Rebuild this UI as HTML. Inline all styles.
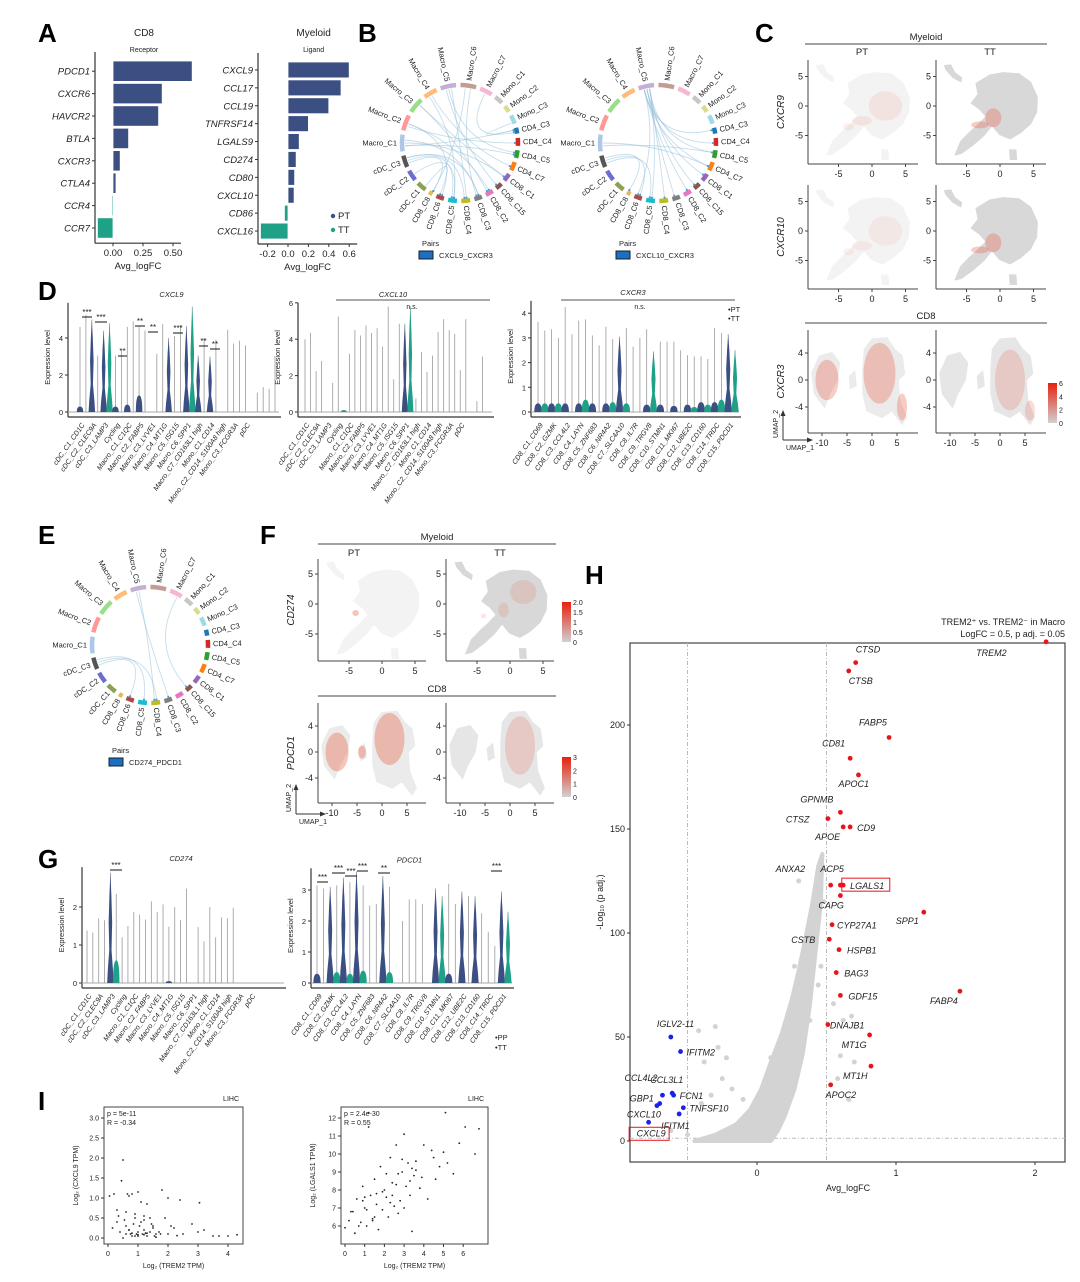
<!DOCTYPE html>
<html><head><meta charset="utf-8">
<style>
html,body{margin:0;padding:0;background:#fff;}
svg{display:block;font-family:"Liberation Sans",Arial,sans-serif;}
.pl{font-weight:bold;font-size:26px;fill:#000;}
</style></head>
<body>
<svg id="fig" width="1080" height="1282" viewBox="0 0 1080 1282" xmlns="http://www.w3.org/2000/svg">
<text class="pl" x="38" y="42">A</text>
<text class="pl" x="358" y="42">B</text>
<text class="pl" x="755" y="42">C</text>
<text class="pl" x="38" y="300">D</text>
<text class="pl" x="38" y="544">E</text>
<text class="pl" x="260" y="544">F</text>
<text class="pl" x="38" y="868">G</text>
<text class="pl" x="585" y="584">H</text>
<text class="pl" x="38" y="1110">I</text>
</svg>
<script>
// ---------- DATA ----------
const cd8Genes=["PDCD1","CXCR6","HAVCR2","BTLA","CXCR3","CTLA4","CCR4","CCR7"];
const cd8FC=[0.66,0.41,0.38,0.13,0.06,0.025,-0.01,-0.13];
const myeGenes=["CXCL9","CCL17","CCL19","TNFRSF14","LGALS9","CD274","CD80","CXCL10","CD86","CXCL16"];
const myeFC=[0.6,0.52,0.4,0.2,0.11,0.08,0.065,0.06,-0.035,-0.27];
const cd8Ticks=[0,0.25,0.5];
const cd8TickLabels=["0.00","0.25","0.50"];
const myeTicks=[-0.2,0,0.2,0.4,0.6];
const myeTickLabels=["-0.2","0.0","0.2","0.4","0.6"];

const chordSegs=["Macro_C1","Macro_C2","Macro_C3","Macro_C4","Macro_C5","Macro_C6","Macro_C7","Mono_C1","Mono_C2","Mono_C3","CD4_C3","CD4_C4","CD4_C5","CD4_C7","CD8_C1","CD8_C15","CD8_C2","CD8_C3","CD8_C4","CD8_C5","CD8_C6","CD8_C8","cDC_C1","cDC_C2","cDC_C3"];
const chordW=[1.7,1.6,1.6,1.4,1.6,1.6,1.3,0.9,0.7,0.9,0.6,0.8,0.8,0.9,0.8,0.7,0.8,0.8,0.9,0.9,0.8,0.4,1.0,1.1,1.2];
const chordCol=["#aec7e8","#ff9896","#98df8a","#ffbb78","#c5b0d5","#c49c94","#f7b6d2","#c7c7c7","#dbdb8d","#9edae5","#1f77b4","#d62728","#2ca02c","#ff7f0e","#9467bd","#8c564b","#e377c2","#7f7f7f","#bcbd22","#17becf","#ad494a","#e7ba52","#8ca252","#6b6ecf","#555555"];
const chordSrc1=[0,0,0,1,1,2,3,3,4,4,4,5,5,6,9,22,23,24,24,24,24,0,1,2];
const chordDst1=[10,14,17,11,20,16,19,13,18,15,12,17,21,10,10,20,19,18,21,19,17,12,16,14];
const chordSrc2=[4,4,4,4,4,4,4,4,4,24,24,24,0,0,4,4];
const chordDst2=[10,11,12,13,14,15,16,17,18,19,20,21,12,13,19,20];
const chordSrcE=[4,4,24,24,24,6];
const chordDstE=[17,18,19,20,18,15];

const d1H=[4.6,5.25,5.0,3.05,4.4,4.8,3.05,3.3,4.6,4.9,4.6,4.4,0,3.15,4.75,4.0,4.1,4.7,4.65,5.7,3.05,4.0,3.0,3.9,0,4.45,3.7,3.85,3.6,0,1.05,1.35,1.25,3.0];
const d1B=[0.3,0,5.0,0,4.4,4.8,0.3,0,0.4,0,0.9,0,0,0,0,4.0,0,0,4.65,5.7,3.05,0,3.0,0,0,0,0,0,0,0,0,0,0,0];
const d1C=["n","","n","","n","g","n","","n","","n","","","","","n","","","n","g","n","","n","","","","","","","","","","",""];
const d2H=[4.0,4.35,2.25,2.8,0,1.6,5.25,0.1,3.2,4.5,4.2,4.75,4.35,4.6,3.6,5.8,1.8,4.85,4.85,5.8,0.75,3.3,2.2,3.1,4.4,5.1,4.5,4.3,2.3,5.1,0,0.6,3.05,0];
const d2B=[0,0,0,0,0,0,0,0.1,0,0,0,0,0,0,0,0,0,0,4.85,5.8,0,0,0,0,0,0,0,0,0,0,0,0,0,0];
const d2C=["","","","","","","","g","","","","","","","","","","","n","g","","","","","","","","","","","","","",""];
const d3H=[3.65,3.3,3.35,3.0,4.25,3.15,3.7,3.75,3.1,2.7,3.45,2.95,3.05,3.4,2.65,3.0,3.35,2.45,2.85,2.85,2.85,2.5,2.3,2.25,2.25,2.15,3.4,3.2,3.15,2.5];
const d3B=[0.35,0.35,0.35,0.35,0.35,0,0.35,0.5,0.35,0,0.35,0.4,3.05,0.35,0,0,0.3,2.45,0.3,0,0.25,0,0.3,0.2,0.4,0.3,0.4,0.5,3.15,2.5];
const d3C=["n","g","n","g","n","","n","g","n","","n","g","n","g","","","n","g","n","","n","","n","g","n","g","n","g","n","g"];
const g1H=[1.38,1.33,1.7,1.65,2.9,2.35,1.2,1.5,1.87,1.8,1.67,2.15,1.87,2.07,1.48,2.0,1.65,2.48,0,1.47,1.1,2.0,1.2,1.73,1.7,1.98,0,0,0,0,0,0,0,0];
const g1B=[0,0,0,0,2.9,0.6,0,0,0,0,0,0,0,0,0.05,0,0,0,0,0,0,0,0,0,0,0,0,0,0,0,0,0,0,0];
const g1C=["","","","","n","g","","","","","","","","","n","","","","","","","","","","","","","","",""];
const g2H=[3.15,3.05,3.1,3.15,3.4,3.25,3.6,3.15,2.5,2.55,3.45,3.1,0,2.0,2.7,2.7,2.55,0,3.05,2.8,3.2,2.55,2.95,2.8,2.8,2.25,1.65,1.2,2.95,2.3];
const g2B=[0.3,0,3.1,0.35,3.4,0.3,3.6,0.4,0,0,3.45,0.35,0,0,0,0,0,0,3.05,2.8,0.3,0,2.95,0,2.8,0,0,0,2.95,2.3];
const g2C=["n","","n","g","n","g","n","g","","","n","g","","","","","","","n","g","n","","n","","n","","","","n","g"];
const myCats17=["cDC_C1_CD1C","cDC_C2_CLEC9A","cDC_C3_LAMP3","Cycling","Macro_C1_C1QC","Macro_C2_FABP5","Macro_C3_LYVE1","Macro_C4_MT1G","Macro_C5_ISG15","Macro_C6_SPP1","Macro_C7_CD163L1 high","Mono_C1_CD14","Mono_C2_CD14_S100A8 high","Mono_C3_FCGR3A","pDC"];
const cd8Cats=["CD8_C1_CD69","CD8_C2_GZMK","CD8_C3_CCL4L2","CD8_C4_LAYN","CD8_C5_ZNF683","CD8_C6_NR4A2","CD8_C7_SLC4A10","CD8_C8_IL7R","CD8_C9_TRGV8","CD8_C10_STMN1","CD8_C11_MKI67","CD8_C12_UBE2C","CD8_C13_CD160","CD8_C14_TRDC","CD8_C15_PDCD1"];

// Volcano
const upGenes=["CTSD","CTSB","FABP5","CD81","APOC1","GPNMB","CTSZ","CD9","APOE","ANXA2","ACP5","LGALS1","CAPG","CYP27A1","SPP1","CSTB","HSPB1","BAG3","GDF15","FABP4","DNAJB1","MT1G","MT1H","APOC2","TREM2"];
const upFC=[0.71,0.66,0.95,0.67,0.73,0.6,0.51,0.67,0.62,0.53,0.6,0.62,0.6,0.54,1.2,0.52,0.59,0.57,0.6,1.46,0.51,0.81,0.82,0.53,2.08];
const upP=[230,226,194,184,176,158,155,151,151,123,123,123,118,104,110,97,92,81,70,72,56,51,36,27,240];
const upDx=[0,0,-30,-28,-20,-40,-42,7,-28,-55,-20,7,-22,5,-28,-38,8,8,8,-30,2,-28,-28,-5,-70];
const upDy=[-10,13,-12,-12,12,-10,4,4,13,-13,-13,4,13,4,12,4,4,4,4,13,4,13,13,13,14];
const dnGenes=["IGLV2-11","IFITM2","CCL4L2","CCL3L1","GBP1","FCN1","CXCL10","TNFSF10","IFITM1","CXCL9"];
const dnFC=[-0.62,-0.55,-0.68,-0.61,-0.7,-0.6,-0.72,-0.53,-0.56,-0.78];
const dnP=[50,43,22,23,18,22,17,16,13,9];
const dnDx=[-14,6,-38,-22,-30,6,-30,6,-18,-12];
const dnDy=[-10,4,-14,-10,-2,4,12,4,15,14];
const cloudFC=[-0.45,-0.3,-0.15,-0.05,0.03,0.1,0.18,0.25,0.3,0.35,0.4,0.44,0.47,0.46,0.42,0.38,0.33,0.27,0.2,0.15,0.1,0.0,-0.2];
const cloudP=[0,3,8,15,25,38,52,68,82,98,115,132,138,115,90,65,42,25,12,5,0,0,0];
const grayFC=[-0.42,-0.38,-0.62,-0.18,-0.25,0.3,0.35,0.4,0.42,0.46,0.55,0.62,0.68,0.6,0.7,-0.4,-0.33,0.44,0.27,0.38,0.48,-0.5,-0.22,0.66,0.58,-0.3,-0.28,-0.1,0.1];
const grayP=[53,38,5,25,30,125,88,108,95,84,66,58,60,41,38,18,22,75,84,58,115,3,40,20,30,55,45,20,40];
const hxTicks=[0,1,2];
const hyTicks=[0,50,100,150,200];

// Scatter I
const s1x=[0.05,0.2,0.3,0.45,0.5,0.6,0.65,0.7,0.8,0.9,1.0,1.1,1.2,1.3,1.8,2.0,2.4,3.05,0.15,0.3,0.4,0.55,0.6,0.7,0.75,0.85,0.9,1.0,1.05,1.1,1.15,1.2,1.3,1.4,1.5,1.6,1.7,1.9,2.1,2.2,2.5,2.8,3.0,3.2,3.5,3.7,4.0,4.3,0.5,0.8,1.0,1.3,1.5,1.2,0.9,1.6,2.0,2.3,0.35,1.45,0.6,0.8,1.0,1.2,1.4,0.7,0.95,1.25,1.55,1.75];
const s1y=[1.05,1.1,0.7,1.43,1.95,0.65,1.1,1.05,1.1,0.6,1.15,0.9,0.55,0.85,1.2,1.0,0.95,0.88,0.25,0.4,0.15,0.45,0.3,0.2,0.1,0.35,0.05,0.15,0.3,0.4,0.1,0.2,0.05,0.5,0.25,0.1,0.15,0.5,0.3,0.25,0.1,0.35,0.15,0.2,0.05,0.05,0.05,0.08,0.0,0.05,0.08,0.12,0.3,0.45,0.5,0.02,0.1,0.06,0.55,0.35,0.1,0.12,0.05,0.08,0.15,0.2,0.1,0.12,0.05,0.1];
const s2x=[0.0,0.2,0.4,0.5,0.6,0.8,0.9,1.0,1.1,1.2,1.3,1.4,1.5,1.6,1.7,1.8,1.9,2.0,2.1,2.2,2.3,2.4,2.5,2.6,2.7,2.8,2.9,3.0,3.1,3.2,3.3,3.4,3.5,3.6,3.8,4.0,4.2,4.4,4.6,4.8,5.0,5.2,5.5,5.8,6.1,6.6,6.8,1.2,2.9,5.1,0.3,0.7,1.0,1.5,1.9,2.3,2.6,3.0,3.4,3.9,4.5,0.9,1.4,2.1,2.7,3.3,1.1,1.6,2.4,3.6];
const s2y=[5.9,6.3,6.8,5.6,7.5,6.2,8.2,7.0,6.0,11.5,7.7,6.4,8.6,7.2,5.8,9.3,6.9,8.0,7.6,6.5,9.8,8.4,7.1,10.5,8.9,7.4,9.0,11.1,8.2,9.5,7.7,5.7,8.8,9.6,8.1,10.5,7.5,10.2,8.6,9.3,10.1,9.5,8.9,10.6,11.5,10.0,11.4,12.3,9.7,12.3,6.8,6.0,7.6,6.5,7.9,7.3,8.3,7.0,9.2,8.7,9.8,7.4,6.3,8.9,6.7,8.5,6.9,7.8,7.7,9.1];
const s1yTicks=[0,0.5,1,1.5,2,2.5,3];
const s1yLabels=["0.0","0.5","1.0","1.5","2.0","2.5","3.0"];
const s2yTicks=[6,7,8,9,10,11,12];

// ---------- HELPERS ----------
const svg=document.getElementById('fig');
const NS="http://www.w3.org/2000/svg";
function mk(tag,name,attrs,parent){
  const e=document.createElementNS(NS,tag);
  for(const k in attrs)e.setAttribute(k,attrs[k]);
  
  
  (parent||svg).appendChild(e);return e;
}
function tx(name,x,y,s,o){
  o=o||{};
  const e=mk('text',name,{x:x,y:y,'font-size':o.fs||9,fill:o.fill||'#222','text-anchor':o.anchor||'start'});
  if(o.italic)e.setAttribute('font-style','italic');
  if(o.rot!==undefined)e.setAttribute('transform','rotate('+o.rot+' '+x+' '+y+')');
  e.textContent=s;return e;
}
function ln(name,x1,y1,x2,y2,c,w,dash){
  const e=mk('line',name,{x1:x1,y1:y1,x2:x2,y2:y2,stroke:c||'#333','stroke-width':w||1});
  if(dash)e.setAttribute('stroke-dasharray',dash);return e;
}
const NAVY="#3b4f82",GREEN="#1fa187";

// ---------- PANEL A ----------
function barChart(genes,vals,ticks,tickLabels,x0,scale,yTop,step,axisX,title,sub,prefix){
  const sx=v=>x0+v*scale;
  const cx=(axisX+sx(ticks[ticks.length-1])+20)/2;
  tx(prefix+'-title',cx,36,title,{fs:10,anchor:'middle'});
  tx(prefix+'-subtitle',cx,52,sub,{fs:7,anchor:'middle'});
  const yBot=yTop+step*genes.length+4;
  ln(prefix+'-y-axis',axisX,yTop-8,axisX,yBot,'#333',1.2);
  ln(prefix+'-x-axis',axisX,yBot,sx(ticks[ticks.length-1])+8,yBot,'#333',1.2);
  genes.forEach((g,i)=>{
    const yc=yTop+step*i+step/2;
    const v=vals[i];
    mk('rect',prefix+'-bar-'+g.toLowerCase(),{x:Math.min(sx(0),sx(v)),y:yc-step/2+1,width:Math.max(1,Math.abs(sx(v)-sx(0))),height:step-2,fill:v>=0?NAVY:GREEN,stroke:'#fff','stroke-width':0.8});
    ln(prefix+'-tick-'+i,axisX-3,yc,axisX,yc);
    tx(prefix+'-label-'+g.toLowerCase(),axisX-5,yc+3.5,g,{fs:9.5,anchor:'end',italic:true});
  });
  ticks.forEach((t,i)=>{
    ln(prefix+'-xtick',sx(t),yBot,sx(t),yBot+3);
    tx(prefix+'-xtick-label',sx(t),yBot+13,tickLabels[i],{fs:9.5,anchor:'middle'});
  });
  tx(prefix+'-x-title',(axisX+sx(ticks[ticks.length-1]))/2+4,yBot+26,'Avg_logFC',{fs:9.5,anchor:'middle'});
}
barChart(cd8Genes,cd8FC,cd8Ticks,cd8TickLabels,113,120,60,22.4,95,'CD8','Receptor','a-cd8');
barChart(myeGenes,myeFC,myeTicks,myeTickLabels,288,102,61,17.9,258,'Myeloid','Ligand','a-myeloid');
mk('circle','legend-pt-dot',{cx:333,cy:216,r:2.2,fill:NAVY});
tx('legend-pt',338,219,'PT',{fs:9.5});
mk('circle','legend-tt-dot',{cx:333,cy:230,r:2.2,fill:GREEN});
tx('legend-tt',338,233,'TT',{fs:9.5});

// ---------- CHORDS ----------
function chord(cx,cy,R,src,dst,prefix,fs){
  const tot=chordW.reduce((a,b)=>a+b,0);
  const gap=0.012*Math.PI*2;
  const avail=Math.PI*2-gap*chordW.length;
  let a=Math.PI - (chordW[0]/tot*avail)/2;
  const mid=[];
  chordSegs.forEach((s,i)=>{
    const span=chordW[i]/tot*avail;
    const a0=a,a1=a+span; a=a1+gap;
    mid.push((a0+a1)/2);
    const p=(t)=>[cx+R*Math.cos(t),cy+R*Math.sin(t)];
    const [x0,y0]=p(a0),[x1,y1]=p(a1);
    mk('path',prefix+'-sector-'+s.toLowerCase(),{d:`M${x0},${y0} A${R},${R} 0 0 1 ${x1},${y1}`,stroke:chordCol[i],'stroke-width':4.5,fill:'none'});
    const m=(a0+a1)/2;
    let deg=m*180/Math.PI; deg=((deg%360)+360)%360;
    const lx=cx+(R+5)*Math.cos(m),ly=cy+(R+5)*Math.sin(m);
    const left=deg>90&&deg<270;
    const t=tx(prefix+'-label-'+s.toLowerCase(),lx,ly+2.5,s,{fs:fs,anchor:left?'end':'start'});
    t.setAttribute('transform','rotate('+(left?deg-180:deg)+' '+lx+' '+ly+')');
  });
  src.forEach((s,i)=>{
    const t1=mid[s]+0.05*((i%3)-1),t2=mid[dst[i]]+0.04*((i%2)-0.5);
    const r=R-3;
    const x1=cx+r*Math.cos(t1),y1=cy+r*Math.sin(t1),x2=cx+r*Math.cos(t2),y2=cy+r*Math.sin(t2);
    mk('path',prefix+'-chord',{d:`M${x1},${y1} Q${cx},${cy} ${x2},${y2}`,stroke:'#8dbbd8','stroke-opacity':0.5,'stroke-width':0.9,fill:'none'});
    mk('circle',prefix+'-chord-arrow',{cx:x2,cy:y2,r:1.1,fill:'#5a9ac8'});
  });
}
chord(460,143,58,chordSrc1,chordDst1,'b-cxcl9',7.5);
chord(658,143,58,chordSrc2,chordDst2,'b-cxcl10',7.5);
chord(150,645,58,chordSrcE,chordDstE,'e-cd274',7.5);
function pairs(x,y,label,p){
  tx(p+'-pairs-title',x,y,'Pairs',{fs:7.5});
  mk('rect',p+'-pairs-swatch',{x:x-3,y:y+5,width:14,height:8,fill:'#1f6fbf',stroke:'#123'});
  tx(p+'-pairs-label',x+17,y+12,label,{fs:7.5});
}
pairs(422,246,'CXCL9_CXCR3','b1');
pairs(619,246,'CXCL10_CXCR3','b2');
pairs(112,753,'CD274_PDCD1','e');

// ---------- UMAPS ----------
const myeBlobs=[
 "M-8.2,6.8 L-7.4,6.9 L-6.8,5.6 L-5.8,4.8 L-5.9,4.2 L-7.0,4.9 L-8.0,6.2 Z",
 "M-3.5,3.8 L-1.5,5.2 L0.5,5.6 L2.8,5.4 L4.5,4.0 L5.5,1.5 L5.4,-1.0 L4.5,-3.0 L3.0,-4.5 L1.5,-5.5 L0.0,-4.8 L-1.2,-3.2 L-2.0,-1.8 L-3.0,-0.5 L-4.2,0.5 L-3.2,2.0 Z",
 "M-6.6,-8.2 L-5.8,-6.0 L-4.5,-4.5 L-3.2,-3.2 L-2.0,-1.8 L-1.2,-3.2 L-2.5,-5.0 L-4.0,-6.5 L-5.8,-8.0 Z",
 "M1.5,-7.5 L2.3,-7.5 L2.4,-9.0 L1.6,-9.0 Z"];
const cd8Blobs=[
 "M-12,1 L-10.5,3.5 L-8,4 L-6.5,2.5 L-7,0 L-8.5,-2 L-9.5,-4 L-11.5,-2 Z",
 "M-1.5,4.5 L0,6 L3,6.2 L4.5,4.5 L6,3.5 L6.5,1 L5.2,0 L5.5,-3 L6.8,-5.5 L6,-6.5 L4,-4.5 L2,-5.5 L-1,-4.5 L-1.8,-2 L-1.8,1.5 Z",
 "M-4.5,0.5 L-3.5,1.2 L-3.2,-0.8 L-4.3,-1.2 Z"];
function umap(px,py,w,h,xs,ys,x0,y0,blobs,fill,reds,redOp,prefix,xt,yt,ylab){
  const g=mk('g',prefix,{});
  const tr=`translate(${x0} ${y0}) scale(${xs} ${-ys})`;
  blobs.forEach((b,i)=>{mk('path',prefix+'-cluster-'+i,{d:b,fill:fill,transform:tr,stroke:fill,'stroke-width':0.3},g);});
  reds.forEach((r,i)=>{mk('ellipse',prefix+'-expr-'+i,{cx:x0+r[0]*xs,cy:y0-r[1]*ys,rx:r[2]*xs,ry:r[3]*ys,fill:'#e8553a','fill-opacity':redOp},g);});
  ln(prefix+'-x-axis',px,py+h,px+w,py+h,'#444',1);
  ln(prefix+'-y-axis',px,py,px,py+h,'#444',1);
  xt.forEach(t=>{ln(prefix+'-xt',x0+t*xs,py+h,x0+t*xs,py+h+3,'#444');tx(prefix+'-xtl',x0+t*xs,py+h+13,String(t),{fs:9,anchor:'middle'});});
  yt.forEach(t=>{ln(prefix+'-yt',px-3,y0-t*ys,px,y0-t*ys,'#444');tx(prefix+'-ytl',px-5,y0-t*ys+3,String(t),{fs:9,anchor:'end'});});
  if(ylab)tx(prefix+'-ylab',px-24,py+h/2,ylab,{fs:10,anchor:'middle',italic:true,rot:-90});
}
function header(x1,x2,y,title,prefix){tx(prefix,(x1+x2)/2,y-4,title,{fs:9.5,anchor:'middle'});ln(prefix+'-line',x1,y,x2,y,'#444',1);}
header(805,1047,44,'Myeloid','c-myeloid-header');
tx('c-pt',862,55,'PT',{fs:9.5,anchor:'middle'});tx('c-tt',990,55,'TT',{fs:9.5,anchor:'middle'});
const myeR_PT=[[-1.5,-2.5,1.5,0.8],[-3.5,-3.5,0.8,0.6],[2,0,2.5,2.5]];
const myeR_TT=[[-1,-2,1.2,1.6],[-3,-3.2,1.3,0.6]];
umap(808,60,110,104,6.7,5.9,872,106,myeBlobs,'#f3f3f3',myeR_PT,0.1,'c-cxcr9-pt',[-5,0,5],[5,0,-5],'CXCR9');
umap(936,60,110,104,6.7,5.9,1000,106,myeBlobs,'#d8d8d8',myeR_TT,0.3,'c-cxcr9-tt',[-5,0,5],[5,0,-5],'');
umap(808,185,110,104,6.7,5.9,872,231,myeBlobs,'#f3f3f3',myeR_PT,0.08,'c-cxcr10-pt',[-5,0,5],[5,0,-5],'CXCR10');
umap(936,185,110,104,6.7,5.9,1000,231,myeBlobs,'#d8d8d8',myeR_TT,0.3,'c-cxcr10-tt',[-5,0,5],[5,0,-5],'');
header(805,1047,323,'CD8','c-cd8-header');
const cd8R_PT=[[1.5,1,3.2,4.5],[-9,0,2.3,3],[6,-4,1,2]];
const cd8R_TT=[[2,0,3,4.5],[6,-4.5,1,1.5]];
umap(808,330,110,103,5,6.75,872,380,cd8Blobs,'#ebebeb',cd8R_PT,0.3,'c-cxcr3-pt',[-10,-5,0,5],[4,0,-4],'CXCR3');
umap(936,330,110,103,5,6.75,1000,380,cd8Blobs,'#e6e6e6',cd8R_TT,0.2,'c-cxcr3-tt',[-10,-5,0,5],[4,0,-4],'');
function cbar(x,y,h,labels,prefix){
  const gid=prefix+'-grad';
  const defs=mk('defs',prefix+'-defs',{});
  const lg=mk('linearGradient',prefix+'-gradient',{id:gid,x1:0,y1:1,x2:0,y2:0},defs);
  mk('stop',prefix+'-stop0',{offset:0,'stop-color':'#d0d0d0'},lg);
  mk('stop',prefix+'-stop1',{offset:1,'stop-color':'#e8200f'},lg);
  mk('rect',prefix+'-bar',{x:x,y:y,width:9,height:h,fill:`url(#${gid})`});
  labels.forEach((l,i)=>tx(prefix+'-lab',x+11,y+h-i*h/(labels.length-1)+3,l,{fs:7}));
}
cbar(1048,383,40,['0','2','4','6'],'c-colorbar');
function umapArrows(x,y,p){ln(p+'-u2',x,y,x,y-28,'#333');mk('path',p+'-u2h',{d:`M${x-2.5},${y-24} L${x},${y-30} L${x+2.5},${y-24}Z`,fill:'#333'});
ln(p+'-u1',x,y,x+28,y,'#333');mk('path',p+'-u1h',{d:`M${x+24},${y-2.5} L${x+30},${y} L${x+24},${y+2.5}Z`,fill:'#333'});
tx(p+'-u2l',x-5,y-2,'UMAP_2',{fs:7,rot:-90});tx(p+'-u1l',x+3,y+10,'UMAP_1',{fs:7});}
umapArrows(783,440,'c-umap');
header(318,556,544,'Myeloid','f-myeloid-header');
tx('f-pt',354,556,'PT',{fs:9.5,anchor:'middle'});tx('f-tt',500,556,'TT',{fs:9.5,anchor:'middle'});
const fR_PT=[[-4,-1.5,0.5,0.5]];const fR_TT=[[-4,-2,0.4,0.4],[-1,-1,0.8,1.2],[2,2,2,2]];
umap(318,559,108,102,6.6,6,382,604,myeBlobs,'#f3f3f3',fR_PT,0.35,'f-cd274-pt',[-5,0,5],[5,0,-5],'CD274');
umap(446,559,108,102,6.6,6,510,604,myeBlobs,'#d8d8d8',fR_TT,0.15,'f-cd274-tt',[-5,0,5],[5,0,-5],'');
cbar(562,602,40,['0','0.5','1','1.5','2.0'],'f-colorbar-1');
header(318,556,696,'CD8','f-cd8-header');
const fR2_PT=[[1.5,2,3,4],[-9,0,2.3,3],[-4,0,0.8,1]];const fR2_TT=[[2,1,3,4.5]];
umap(318,703,108,100,5,6.5,382,752,cd8Blobs,'#ebebeb',fR2_PT,0.35,'f-pdcd1-pt',[-10,-5,0,5],[4,0,-4],'PDCD1');
umap(446,703,108,100,5,6.5,510,752,cd8Blobs,'#e6e6e6',fR2_TT,0.2,'f-pdcd1-tt',[-10,-5,0,5],[4,0,-4],'');
cbar(562,757,40,['0','1','2','3'],'f-colorbar-2');
umapArrows(296,814,'f-umap');

// ---------- VIOLINS ----------
function violin(title,H,B,C,cats,axX,x1,x2,y0,ys,yMax,ticks,prefix){
  const n=H.length,sp=(x2-x1)/(n-1);
  tx(prefix+'-title',(axX+x2)/2,y0-ys*yMax-6,title,{fs:7.5,anchor:'middle',italic:true});
  ln(prefix+'-y-axis',axX,y0-ys*yMax,axX,y0+5,'#333',1.2);
  ln(prefix+'-x-axis',axX,y0+5,x2+6,y0+5,'#333',1.2);
  ticks.forEach(t=>{ln(prefix+'-yt',axX-3,y0-t*ys,axX,y0-t*ys);tx(prefix+'-ytl',axX-5,y0-t*ys+3,String(t),{fs:7.5,anchor:'end'});});
  tx(prefix+'-ylab',axX-18,y0-ys*yMax/2,'Expression level',{fs:7.5,anchor:'middle',rot:-90});
  ln(prefix+'-baseline',axX,y0,x2+4,y0,'#aaa',1);
  H.forEach((h,i)=>{
    const x=x1+i*sp;
    if(h>0)ln(prefix+'-violin-line-'+i,x,y0,x,y0-h*ys,'#9a9a9a',0.8);
    if(B[i]>0&&C[i]){
      const b=B[i]*ys,w=sp*0.55;
      const full=B[i]>=h-0.01&&B[i]>1;
      const d=full?`M${x-w},${y0} L${x-w*0.8},${y0-b*0.12} L${x-w*0.35},${y0-b*0.3} L${x-w*0.55},${y0-b*0.55} L${x-w*0.3},${y0-b*0.8} L${x},${y0-b} L${x+w*0.3},${y0-b*0.8} L${x+w*0.55},${y0-b*0.55} L${x+w*0.35},${y0-b*0.3} L${x+w*0.8},${y0-b*0.12} L${x+w},${y0} Z`
                  :`M${x-w},${y0} Q${x-w},${y0-b} ${x},${y0-b} Q${x+w},${y0-b} ${x+w},${y0} Z`;
      mk('path',prefix+'-violin-'+i,{d:d,fill:C[i]=='n'?NAVY:GREEN});
    }
  });
  cats.forEach((c,j)=>{const x=x1+(2*j+0.5)*sp+2;tx(prefix+'-cat-'+j,x,y0+13,c,{fs:7,anchor:'end',italic:true,rot:-55});});
}
violin('CXCL9',d1H,d1B,d1C,myCats17,68,80,275,412,18.5,5.9,[0,2,4],'d-cxcl9');
violin('CXCL10',d2H,d2B,d2C,myCats17,298,305,488,412,18.2,6,[0,2,4,6],'d-cxcl10');
violin('CXCR3',d3H,d3B,d3C,cd8Cats,531,538,735,412,24.7,4.5,[0,1,2,3,4],'d-cxcr3');
violin('CD274',g1H,g1B,g1C,myCats17,82,87,280,983,38,3.05,[0,1,2],'g-cd274');
violin('PDCD1',g2H,g2B,g2C,cd8Cats,311,317,508,983,31,3.7,[0,1,2,3],'g-pdcd1');
function sig(x1,x2,y,s,p){ln(p,x1,y,x2,y,'#111',1);tx(p+'-t',(x1+x2)/2,y-2,s,{fs:8,anchor:'middle'});}
sig(82,92,317,'***','d-sig1');sig(95,107,322,'***','d-sig2');sig(118,127,356,'**','d-sig3');sig(135,145,326,'**','d-sig4');sig(148,158,332,'**','d-sig5');sig(173,183,333,'***','d-sig6');sig(199,208,346,'**','d-sig7');sig(210,220,349,'**','d-sig8');
ln('d-cxcl10-bracket',336,300,490,300,'#555',1);tx('d-cxcl10-ns',412,309,'n.s.',{fs:7,anchor:'middle'});
ln('d-cxcr3-bracket',561,300,735,300,'#555',1);tx('d-cxcr3-ns',640,309,'n.s.',{fs:7,anchor:'middle'});
tx('d-legend-pt',728,312,'•PT',{fs:7.5});tx('d-legend-tt',728,321,'•TT',{fs:7.5});
sig(110,122,870,'***','g-sig1');
sig(317,328,882,'***','g-sig2');sig(332,345,873,'***','g-sig3');sig(345,357,876,'***','g-sig4');sig(357,368,871,'***','g-sig5');sig(378,390,873,'**','g-sig6');sig(491,502,871,'***','g-sig7');
tx('g-legend-pp',495,1040,'•PP',{fs:7.5});tx('g-legend-tt',495,1050,'•TT',{fs:7.5});

// ---------- VOLCANO ----------
(function(){
  const bx=630,by=643,bw=435,bh=519;
  const sx=v=>757+v*139, sy=v=>1141-v*2.08;
  tx('h-title-1',1065,625,'TREM2⁺ vs. TREM2⁻ in Macro',{fs:9,anchor:'end'});
  tx('h-title-2',1065,637,'LogFC = 0.5, p adj. = 0.05',{fs:9,anchor:'end'});
  mk('rect','h-plot-frame',{x:bx,y:by,width:bw,height:bh,fill:'none',stroke:'#444','stroke-width':1.2});
  ln('h-threshold-left',sx(-0.5),by,sx(-0.5),by+bh,'#bbb',1,'4,2,1,2');
  ln('h-threshold-right',sx(0.5),by,sx(0.5),by+bh,'#bbb',1,'4,2,1,2');
  ln('h-threshold-p',bx,sy(1.3),bx+bw,sy(1.3),'#bbb',1,'4,2,1,2');
  let d='';cloudFC.forEach((f,i)=>{d+=(i?'L':'M')+sx(f)+','+sy(cloudP[i])+' ';});
  mk('path','h-ns-gene-cloud',{d:d+'Z',fill:'#d3d3d3',stroke:'#d3d3d3','stroke-width':4,'stroke-linejoin':'round'});
  grayFC.forEach((f,i)=>mk('circle','h-ns-gene',{cx:sx(f),cy:sy(grayP[i]),r:2.5,fill:'#d3d3d3'}));
  upGenes.forEach((g,i)=>{mk('circle','h-up-'+g.toLowerCase(),{cx:sx(upFC[i]),cy:sy(upP[i]),r:2.4,fill:'#e8141c'});
    tx('h-label-'+g.toLowerCase(),sx(upFC[i])+upDx[i],sy(upP[i])+upDy[i],g,{fs:9,italic:true});});
  dnGenes.forEach((g,i)=>{mk('circle','h-down-'+g.toLowerCase(),{cx:sx(dnFC[i]),cy:sy(dnP[i]),r:2.4,fill:'#1822e8'});
    tx('h-label-'+g.toLowerCase(),sx(dnFC[i])+dnDx[i],sy(dnP[i])+dnDy[i],g,{fs:9,italic:true});});
  mk('rect','h-highlight-lgals1',{x:sx(0.61),y:sy(123)-7,width:48,height:13,fill:'none',stroke:'#e8141c'});
  mk('rect','h-highlight-cxcl9',{x:sx(-0.92),y:sy(9)+5,width:40,height:13,fill:'none',stroke:'#e8141c'});
  hxTicks.forEach(t=>{ln('h-xtick',sx(t),by+bh,sx(t),by+bh+3);tx('h-xtick-label',sx(t),by+bh+14,String(t),{fs:9,anchor:'middle'});});
  hyTicks.forEach(t=>{ln('h-ytick',bx-3,sy(t),bx,sy(t));tx('h-ytick-label',bx-5,sy(t)+3,String(t),{fs:9,anchor:'end'});});
  tx('h-x-title',848,1191,'Avg_logFC',{fs:9,anchor:'middle'});
  tx('h-y-title',603,902,'-Log₁₀ (p adj.)',{fs:9,anchor:'middle',rot:-90});
})();

// ---------- SCATTER I ----------
function scatter(xs,ys,bx,by,bw,bh,x0,xsc,y0,ysc,xt,yt,ytl,ylab,pv,rv,prefix){
  const px=v=>x0+v*xsc, py=v=>y0-v*ysc;
  mk('rect',prefix+'-frame',{x:bx,y:by,width:bw,height:bh,fill:'none',stroke:'#444','stroke-width':1});
  xs.forEach((x,i)=>mk('circle',prefix+'-point',{cx:px(x),cy:py(ys[i]),r:0.9,fill:'#222'}));
  xt.forEach(t=>{ln(prefix+'-xt',px(t),by+bh,px(t),by+bh+3);tx(prefix+'-xtl',px(t),by+bh+12,String(t),{fs:7,anchor:'middle'});});
  yt.forEach((t,i)=>{ln(prefix+'-yt',bx-3,py(t),bx,py(t));tx(prefix+'-ytl',bx-5,py(t)+2.5,ytl[i],{fs:7,anchor:'end'});});
  tx(prefix+'-x-title',bx+bw/2,by+bh+24,'Log₂ (TREM2 TPM)',{fs:7,anchor:'middle'});
  tx(prefix+'-y-title',bx-26,by+bh/2,ylab,{fs:7,anchor:'middle',rot:-90});
  tx(prefix+'-p',bx+3,by+9,pv,{fs:7});tx(prefix+'-r',bx+3,by+18,rv,{fs:7});
  tx(prefix+'-lihc',bx+bw-4,by-6,'LIHC',{fs:7,anchor:'end'});
}
scatter(s1x,s1y,104,1107,139,137,108,30,1238,40,[0,1,2,3,4],s1yTicks,s1yLabels,'Log₂ (CXCL9 TPM)','p = 5e-11','R = -0.34','i-cxcl9');
scatter(s2x,s2y,341,1107,147,137,345,19.7,1334,18,[0,1,2,3,4,5,6],s2yTicks,s2yTicks.map(String),'Log₂ (LGALS1 TPM)','p = 2.4e-30','R = 0.55','i-lgals1');
</script>
</body></html>
